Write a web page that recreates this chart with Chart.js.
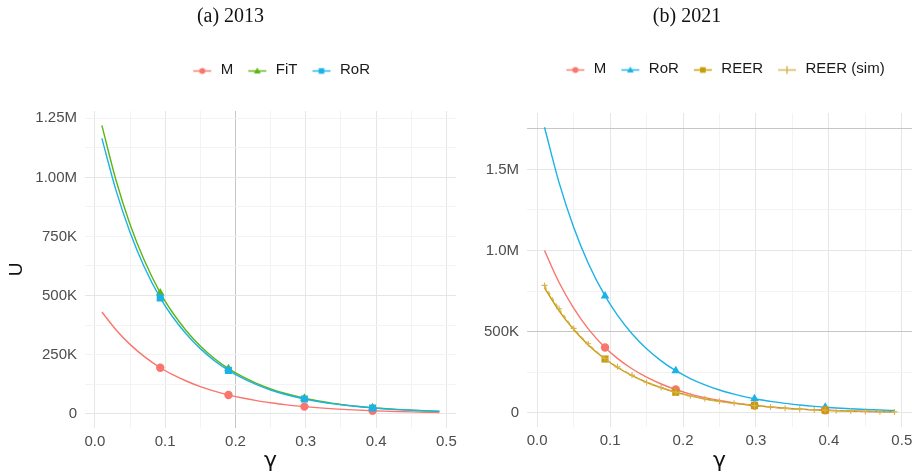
<!DOCTYPE html>
<html>
<head>
<meta charset="utf-8">
<script src="https://cdn.jsdelivr.net/npm/chart.js@4/dist/chart.umd.min.js"></script>
<style>
    body { margin: 0; background: #fff; width: 919px; height: 475px; position: relative; overflow: hidden; }
    .panel { position: absolute; top: 0; height: 475px; }
</style>
</head>
<body>
<div class="panel" style="left:0;width:462px"><canvas id="chartA" width="462" height="475"></canvas></div>
<div class="panel" style="left:462px;width:457px"><canvas id="chartB" width="457" height="475"></canvas></div>
<script>
// gamma grid shared by both panels, values in thousands
const gamma = [0.010, 0.030, 0.050, 0.070, 0.093, 0.110, 0.130, 0.150, 0.170, 0.190, 0.210, 0.230, 0.250,
               0.270, 0.298, 0.320, 0.340, 0.360, 0.380, 0.395, 0.410, 0.430, 0.450, 0.470, 0.490];
const markerIdx = [4, 9, 14, 19];

// (a) 2013
const m2013   = [430, 355, 293, 242, 194, 166, 138, 114, 95, 79, 66, 55, 46, 38, 29.5, 24, 20, 16.8, 14, 12, 10.4, 8.6, 7.1, 5.9, 4.9];
const fit2013 = [1220, 989, 802, 651, 511, 430, 351, 286, 233, 190, 156, 128, 105, 86, 65, 52, 43, 35, 29, 25, 21.6, 17.7, 14.5, 11.9, 9.8];
const ror2013 = [1165, 946, 768, 623, 490, 412, 337, 275, 224, 183, 150, 123, 100, 82, 62, 50, 41, 34, 28, 24, 20.7, 17, 14, 11.5, 9.5];

// (b) 2021
const m2021    = [1000, 803, 645, 517, 402, 335, 271, 219, 177, 143, 115, 93, 75, 61, 45, 35, 28, 22.3, 17.8, 15, 12.7, 10.1, 8.0, 6.4, 5.1];
const ror2021  = [1760, 1419, 1144, 922, 720, 602, 487, 395, 320, 259, 211, 172, 140, 115, 86, 70, 57.5, 47.5, 39, 34, 29.5, 24.3, 20, 16.6, 13.7];
const reer2021 = [770, 628, 513, 418, 331, 279, 229, 188, 154, 126, 104, 85, 70, 58, 44, 34.5, 27.6, 22, 17.7, 15, 12.7, 10.2, 8.2, 6.6, 5.3];
const reerSim2021 = [785, 641, 520, 425, 334, 283, 232, 186, 155, 127, 104, 86, 70, 58, 44, 35, 27, 22, 17.5, 15, 12.5, 10.3, 8.1, 6.7, 5.2];

// axis ticks
const xTicks = [0, 0.1, 0.2, 0.3, 0.4, 0.5];
const xLabels = ['0.0', '0.1', '0.2', '0.3', '0.4', '0.5'];
const xMinor = [0.05, 0.15, 0.25, 0.35, 0.45];
const yTicksA = [0, 250, 500, 750, 1000, 1250];
const yLabelsA = ['0', '250K', '500K', '750K', '1.00M', '1.25M'];
const yMinorA = [125, 375, 625, 875, 1125];
const yTicksB = [0, 500, 1000, 1500];
const yLabelsB = ['0', '500K', '1.0M', '1.5M'];
const yMinorB = [250, 750, 1250, 1750];

const COLORS = { M: '#F8766D', FiT: '#5DB512', RoR: '#1BB2E6', REER: '#C79A08', REERsim: '#D7B350' };
const FONT = 'Liberation Sans, Helvetica, Arial, sans-serif';
const MARKER_SIZE = { circle: 4.2, triangle: 5, rect: 5, cross: 3 };

function legendIcon(color, shape) {
    const c = document.createElement('canvas');
    c.width = 20; c.height = 16;
    const g = c.getContext('2d');
    const cy = 9.5, cx = 10;
    g.strokeStyle = color; g.fillStyle = color; g.lineWidth = 1.4;
    g.beginPath(); g.moveTo(1, cy); g.lineTo(19, cy); g.stroke();
    g.beginPath();
    if (shape === 'circle') { g.arc(cx, cy, 3, 0, Math.PI * 2); g.fill(); }
    else if (shape === 'triangle') { g.moveTo(cx, cy - 3.6); g.lineTo(cx + 3.4, cy + 2.4); g.lineTo(cx - 3.4, cy + 2.4); g.closePath(); g.fill(); }
    else if (shape === 'rect') { g.fillRect(cx - 2.8, cy - 2.8, 5.6, 5.6); }
    else if (shape === 'cross') { g.moveTo(cx, cy - 4); g.lineTo(cx, cy + 4); g.stroke(); }
    return c;
}

function series(label, data, color, shape, order, extra) {
    return Object.assign({
        label: label,
        data: gamma.map((x, i) => ({ x: x, y: data[i] })),
        borderColor: color,
        backgroundColor: color,
        borderWidth: 1.4,
        pointStyle: shape,
        pointRadius: ctx => markerIdx.includes(ctx.dataIndex) ? MARKER_SIZE[shape] : 0,
        pointBorderWidth: 0,
        cubicInterpolationMode: 'monotone',
        order: order,
        shape: shape
    }, extra || {});
}

const legendShift = {
    id: 'legendShift',
    afterLayout(chart, args, opts) {
        const lg = chart.legend;
        if (!lg) return;
        lg.left += opts.dx; lg.right += opts.dx;
        lg.top += opts.dy; lg.bottom += opts.dy;
    }
};

function gridColor(dark) {
    return ctx => {
        const v = ctx.tick ? ctx.tick.value : null;
        if (dark.includes(v)) return '#C6C6C6';
        if (xMinor.includes(v) || yMinorA.includes(v) || yMinorB.includes(v)) return '#F3F3F3';
        return '#E6E6E6';
    };
}

function makeChart(id, cfg) {
    const ctx = document.getElementById(id).getContext('2d');
    return new Chart(ctx, {
        type: 'line',
        data: { datasets: cfg.datasets },
        plugins: [legendShift],
        options: {
            responsive: false,
            animation: false,
            layout: { padding: { left: 0, right: cfg.padRight, top: 0, bottom: 0 } },
            plugins: {
                tooltip: { enabled: false },
                title: {
                    display: true, text: cfg.title, color: '#111',
                    font: { family: 'Liberation Serif, serif', size: 20, weight: 'normal' },
                    padding: { top: 5, bottom: cfg.titleGap }
                },
                legend: {
                    fullSize: false,
                    labels: {
                        usePointStyle: true, pointStyleWidth: 22, padding: 13, color: '#1A1A1A',
                        font: { family: FONT, size: 15 },
                        generateLabels: chart => chart.data.datasets.map((ds, i) => ({
                            text: ds.label, pointStyle: legendIcon(ds.borderColor, ds.shape),
                            fillStyle: ds.borderColor, strokeStyle: ds.borderColor, lineWidth: 0,
                            hidden: false, datasetIndex: i, fontColor: '#1A1A1A'
                        }))
                    }
                },
                legendShift: { dx: cfg.legendDx, dy: cfg.legendDy }
            },
            scales: {
                x: {
                    type: 'linear', min: -0.014, max: 0.514,
                    border: { display: false },
                    grid: { color: gridColor(cfg.darkX), lineWidth: 1, drawTicks: false },
                    afterBuildTicks: s => { s.ticks = xTicks.concat(xMinor).sort((a, b) => a - b).map(v => ({ value: v })); },
                    afterFit: s => { s.height = cfg.xHeight; },
                    ticks: {
                        autoSkip: false, maxRotation: 0, padding: 5, color: '#4D4D4D',
                        font: { family: FONT, size: 15 },
                        callback: v => { const i = xTicks.indexOf(v); return i >= 0 ? xLabels[i] : ''; }
                    },
                    title: { display: true, text: 'γ', color: '#111', font: { family: 'DejaVu Sans, sans-serif', size: 22 }, padding: { top: 0, bottom: 1 } }
                },
                y: {
                    type: 'linear', min: cfg.yMin, max: cfg.yMax,
                    border: { display: false },
                    grid: { color: gridColor(cfg.darkY), lineWidth: 1, drawTicks: false },
                    afterBuildTicks: s => { s.ticks = cfg.yTicks.concat(cfg.yMinor).sort((a, b) => a - b).map(v => ({ value: v })); },
                    afterFit: s => { s.width = cfg.yWidth; },
                    ticks: {
                        autoSkip: false, padding: 8, color: '#4D4D4D',
                        font: { family: FONT, size: 15 },
                        callback: v => { const i = cfg.yTicks.indexOf(v); return i >= 0 ? cfg.yLabels[i] : ''; }
                    },
                    title: { display: cfg.yTitle, text: 'U', color: '#111', font: { family: FONT, size: 19 }, padding: { top: 5, bottom: 0 } }
                }
            }
        }
    });
}

makeChart('chartA', {
    title: '(a) 2013', titleGap: 44, legendDx: 10, legendDy: -24, padRight: 1,
    xHeight: 47, yWidth: 85, yMin: -61, yMax: 1281,
    yTicks: yTicksA, yLabels: yLabelsA, yMinor: yMinorA, yTitle: true,
    darkX: [0.2], darkY: [],
    datasets: [
        series('M', m2013, COLORS.M, 'circle', 2),
        series('FiT', fit2013, COLORS.FiT, 'triangle', 1),
        series('RoR', ror2013, COLORS.RoR, 'rect', 0)
    ]
});

makeChart('chartB', {
    title: '(b) 2021', titleGap: 46, legendDx: 5, legendDy: -27, padRight: 7,
    xHeight: 48, yWidth: 65, yMin: -88, yMax: 1848,
    yTicks: yTicksB, yLabels: yLabelsB, yMinor: yMinorB, yTitle: false,
    darkX: [], darkY: [500, 1750],
    datasets: [
        series('M', m2021, COLORS.M, 'circle', 2),
        series('RoR', ror2021, COLORS.RoR, 'triangle', 3),
        series('REER', reer2021, COLORS.REER, 'rect', 1),
        series('REER (sim)', reerSim2021, COLORS.REERsim, 'cross', 0, {
            borderDash: [4, 3], borderWidth: 1.2, pointRadius: 3, pointBorderWidth: 1.1
        })
    ]
});
</script>
</body>
</html>
